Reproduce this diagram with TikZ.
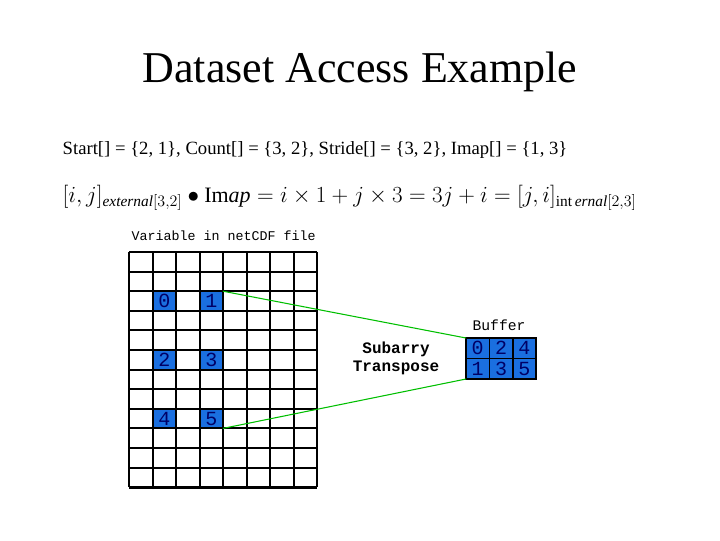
\documentclass[tikz,border=0pt]{standalone}
\usepackage{fontspec}
\setmainfont{Liberation Serif}
\newfontfamily\mono{Liberation Mono}
\definecolor{cb}{HTML}{1A6FE0}
\begin{document}
\begin{tikzpicture}[x=0.75pt,y=-0.75pt,
  cellb/.style={fill=cb,draw=none},
  dig/.style={font=\fontsize{15}{15}\selectfont\mono,text=blue!40!black},
  gl/.style={draw=green!75!black,line width=0.8pt}]
\useasboundingbox (0,0) rectangle (720,540);
\node (title) at (360,72) {\fontsize{33}{33}\selectfont Dataset Access Example};
\node[anchor=west] (start) at (58,150) {\fontsize{14}{14}\selectfont Start[] = \{2, 1\}, Count[] = \{3, 2\}, Stride[] = \{3, 2\}, Imap[] = \{1, 3\}};
\node[anchor=west] (form) at (58,198) {\fontsize{16.5}{16.5}\selectfont $[i,j]_{\mathit{external}[3,2]}\bullet\mathrm{Im}\mathit{ap}=i\times1+j\times3=3j+i=[j,i]_{\mathrm{int}\,\mathit{ernal}[2,3]}$};
\node[anchor=west] (vlab) at (127,236) {\fontsize{10}{10}\selectfont\mono Variable in netCDF file};
\foreach \c/\r/\t in {1/2/0,3/2/1,1/5/2,3/5/3,1/8/4,3/8/5}{
  \fill[cellb] (129+\c*23.5,252+\r*19.6) rectangle ++(23.5,19.6);
  \node[dig] at (129+\c*23.5+11.75,252+\r*19.6+9.8) {\t};
}
\foreach \i in {0,...,8} \draw[line width=1.5pt] (129+\i*23.5,252) -- (129+\i*23.5,487.2);
\foreach \j in {0,...,12} \draw[line width=1.5pt] (129,252+\j*19.6) -- (317,252+\j*19.6);
\foreach \j in {0,12} \draw[line width=2.2pt] (129,252+\j*19.6) -- (317,252+\j*19.6);
\foreach \i in {0,8} \draw[line width=2.2pt] (129+\i*23.5,252) -- (129+\i*23.5,487.2);
\coordinate (g1) at (223,291.2);
\coordinate (g5) at (223,428.4);
\node (blab) at (499,325) {\fontsize{11}{11}\selectfont\mono Buffer};
\fill[cellb] (466,338) rectangle (536,379);
\draw[line width=1.5pt] (466,338) rectangle (536,379);
\draw[line width=1.2pt] (466,358.5) -- (536,358.5) (489.3,338) -- (489.3,379) (512.7,338) -- (512.7,379);
\foreach \c/\r/\t in {0/0/0,1/0/2,2/0/4,0/1/1,1/1/3,2/1/5}
  \node[dig] at (466+\c*23.33+11.7,338+\r*20.5+10.2) {\t};
\coordinate (btl) at (466,338);
\coordinate (bbl) at (466,379);
\draw[gl] (g1) -- (btl);
\draw[gl] (g5) -- (bbl);
\node[align=center,font=\fontsize{12}{13.5}\selectfont\mono\bfseries] (sub) at (396,358) {Subarry\\Transpose};
\end{tikzpicture}
\end{document}
